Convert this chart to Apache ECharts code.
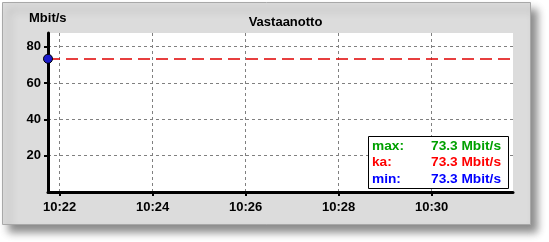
<!DOCTYPE html>
<html>
<head>
<meta charset="utf-8">
<script src="https://cdn.jsdelivr.net/npm/echarts@6/dist/echarts.min.js"></script>
<style>
html,body{margin:0;padding:0;background:#ffffff;}
#c{width:549px;height:242px;}
</style>
</head>
<body>
<div id="c"></div>
<script>
// ---- data ----
const titleText = 'Vastaanotto';
const unitText = 'Mbit/s';
const sampleTimes = ['10:21:45'];
const sampleValues = [73.3];
const xStart = '10:21:45';
const xEnd = '10:31:45';
const xTickLabels = ['10:22', '10:24', '10:26', '10:28', '10:30'];
const yMax = 87.5;
const yTickLabels = [20, 40, 60, 80];
const statLabels = ['max:', 'ka:', 'min:'];
const statValues = [73.3, 73.3, 73.3];
const statColors = ['#00a000', '#ff0000', '#0000ff'];

// time of day -> seconds since midnight
function toSec(s) {
  const p = s.split(':').map(Number);
  return p[0] * 3600 + p[1] * 60 + (p[2] || 0);
}
const pad = n => (n < 10 ? '0' : '') + n;
const fmt = v => pad(Math.floor(v / 3600)) + ':' + pad(Math.floor((v % 3600) / 60));
const xTickValues = xTickLabels.map(toSec);

const chart = echarts.init(document.getElementById('c'), null, {renderer: 'canvas'});
const FONT = 'Liberation Sans, Arial, sans-serif';

const statGraphics = [];
statLabels.forEach((lab, i) => {
  statGraphics.push({
    type: 'text', left: 372, top: 139 + i * 16.5, z: 101,
    style: {text: lab, fill: statColors[i], font: 'bold 13.7px ' + FONT}
  });
  statGraphics.push({
    type: 'text', right: 48, top: 139 + i * 16.5, z: 101,
    style: {text: statValues[i].toFixed(1) + ' ' + unitText, fill: statColors[i], font: 'bold 13.7px ' + FONT}
  });
});

chart.setOption({
  animation: false,
  backgroundColor: '#ffffff',
  graphic: [
    {
      type: 'rect', z: -10, left: 2, top: 2,
      shape: {width: 528, height: 222},
      style: {
        fill: '#dcdcdc', stroke: '#a8a8a8', lineWidth: 1,
        shadowBlur: 8, shadowOffsetX: 6, shadowOffsetY: 7, shadowColor: 'rgba(0,0,0,0.45)'
      }
    },
    {
      type: 'text', left: 29, top: 12, z: 5,
      style: {text: unitText, fill: '#000', font: 'bold 13px ' + FONT}
    },
    {
      type: 'rect', z: 100, left: 368, top: 136,
      shape: {width: 140, height: 52},
      style: {fill: '#ffffff', stroke: '#000000', lineWidth: 1}
    }
  ].concat(statGraphics),
  title: {
    text: titleText, left: 280.5, top: 11, textAlign: 'center',
    textStyle: {fontFamily: FONT, fontSize: 13, fontWeight: 'bold', color: '#000'}
  },
  grid: {
    left: 48, top: 33, right: 36, bottom: 50,
    show: true, backgroundColor: '#ffffff', borderWidth: 0
  },
  xAxis: {
    type: 'value',
    min: toSec(xStart), max: toSec(xEnd),
    axisLine: {lineStyle: {color: '#000', width: 3}},
    axisTick: {show: true, inside: false, length: 4, customValues: xTickValues, lineStyle: {color: '#000', width: 2}},
    axisLabel: {
      customValues: xTickValues,
      color: '#000', fontFamily: FONT, fontSize: 13, fontWeight: 'bold', margin: 9,
      formatter: fmt
    },
    splitLine: {show: true, lineStyle: {color: '#808080', type: [3, 3], width: 1}}
  },
  yAxis: {
    type: 'value', min: 0, max: yMax,
    axisLine: {show: true, lineStyle: {color: '#000', width: 3}},
    axisTick: {show: true, inside: false, length: 4, customValues: yTickLabels, lineStyle: {color: '#000', width: 2}},
    axisLabel: {
      customValues: yTickLabels,
      color: '#000', fontFamily: FONT, fontSize: 13, fontWeight: 'bold', margin: 7
    },
    splitLine: {show: true, lineStyle: {color: '#808080', type: [3, 3], width: 1}}
  },
  series: [{
    type: 'line',
    data: sampleTimes.map((t, i) => [toSec(t), sampleValues[i]]),
    symbol: 'circle', symbolSize: 9, showSymbol: true, clip: false,
    itemStyle: {color: '#1a1acc', borderColor: '#000', borderWidth: 1},
    lineStyle: {color: '#1a1acc'},
    markLine: {
      silent: true, symbol: 'none', label: {show: false},
      lineStyle: {color: '#e00000', type: [12, 6], width: 1.5},
      data: [{type: 'average'}]
    },
    z: 10
  }]
});
</script>
</body>
</html>
